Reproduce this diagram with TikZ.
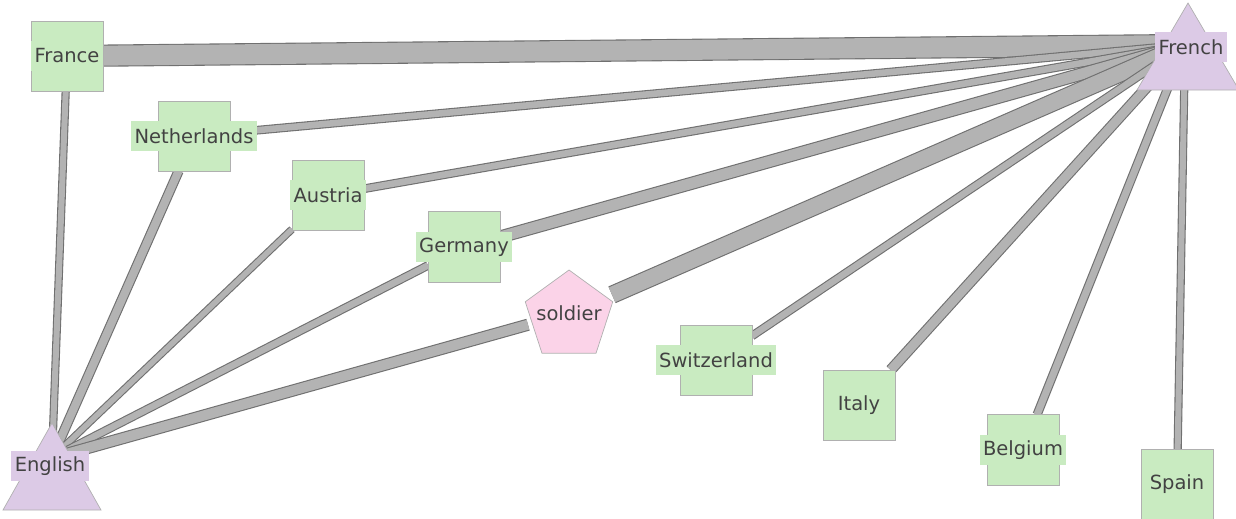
\documentclass[tikz,border=0pt]{standalone}
\usepackage{fontspec}
\setmainfont{DejaVu Sans}
\usetikzlibrary{shapes.geometric,backgrounds}
\definecolor{ngreen}{HTML}{C9EBC1}
\definecolor{nborder}{HTML}{B0B0B0}
\definecolor{npurple}{HTML}{DCCAE6}
\definecolor{npink}{HTML}{FBD3E8}
\definecolor{efill}{HTML}{B3B3B3}
\definecolor{eline}{HTML}{707070}
\definecolor{txt}{HTML}{424242}
\begin{document}
\begin{tikzpicture}[x=1pt,y=-1pt,
  edge/.style={line width=1.1pt, draw=eline, double=efill, double distance=#1},
  sq/.style={draw=nborder, line width=0.7pt, fill=ngreen, minimum width=72pt, minimum height=70pt, inner sep=0pt, outer sep=0pt},
  bbox/.style 2 args={inner sep=0pt, outer sep=0pt, minimum width=#1, minimum height=#2},
  lbl/.style={fill=#1, text=txt, font=\fontsize{19.5}{22}\selectfont, inner xsep=3.5pt, inner ysep=0pt, minimum height=30pt},
  lbl/.default=ngreen,
  tri/.style={draw=nborder, line width=0.7pt, fill=npurple},
]
\useasboundingbox (0,0) rectangle (1236,519);

% squares
\node[sq] (France) at (67,56) {};
\node[sq] (Netherlands) at (194,136) {};
\node[sq] (Austria) at (328,195) {};
\node[sq, minimum height=71pt] (Germany) at (464,247) {};
\node[sq] (Switzerland) at (716,360) {};
\node[sq] (Italy) at (859,405) {};
\node[sq, minimum height=71pt] (Belgium) at (1023,450) {};
\node[sq] (Spain) at (1177,484) {};
\node[bbox={84pt}{84pt}] (soldierbb) at (570,313) {};
\coordinate (French) at (1185,45);
\coordinate (English) at (52,458);

% edges
\begin{scope}[on background layer]
\draw[edge=20pt] (France) -- (French);
\draw[edge=6.5pt] (Netherlands) -- (French);
\draw[edge=6.5pt] (Austria) -- (French);
\draw[edge=11pt] (Germany) -- (French);
\draw[edge=16pt] (soldierbb) -- (French);
\draw[edge=6.5pt] (Switzerland) -- (French);
\draw[edge=9pt] (Italy) -- (French);
\draw[edge=7pt] (Belgium) -- (French);
\draw[edge=6pt] (Spain) -- (French);
\draw[edge=6pt] (France) -- (English);
\draw[edge=8pt] (Netherlands) -- (English);
\draw[edge=5.5pt] (Austria) -- (English);
\draw[edge=6.5pt] (Germany) -- (English);
\draw[edge=10pt] (soldierbb) -- (English);
\end{scope}

% triangles and pentagon
\draw[tri] (1188,3) -- (1239,90) -- (1137,90) -- cycle;
\draw[tri] (52,423) -- (101,510) -- (3,510) -- cycle;
\node[regular polygon, regular polygon sides=5, minimum size=92pt, inner sep=0pt,
      draw=nborder, line width=0.7pt, fill=npink] (soldier) at (569,316) {};

% labels
\node[lbl] (lFrance) at (France.center) {France};
\node[lbl] (lNetherlands) at (Netherlands.center) {Netherlands};
\node[lbl] (lAustria) at (Austria.center) {Austria};
\node[lbl] (lGermany) at (Germany.center) {Germany};
\node[lbl] (lSwitzerland) at (Switzerland.center) {Switzerland};
\node[lbl] (lItaly) at (Italy.center) {Italy};
\node[lbl] (lBelgium) at (Belgium.center) {Belgium};
\node[lbl] (lSpain) at (Spain.center) {Spain};
\node[lbl=npink, inner xsep=1pt] (lsoldier) at (569,313) {soldier};
\node[lbl=npurple] (lFrench) at (1191,47) {French};
\node[lbl=npurple] (lEnglish) at (50,466) {English};
\end{tikzpicture}
\end{document}
